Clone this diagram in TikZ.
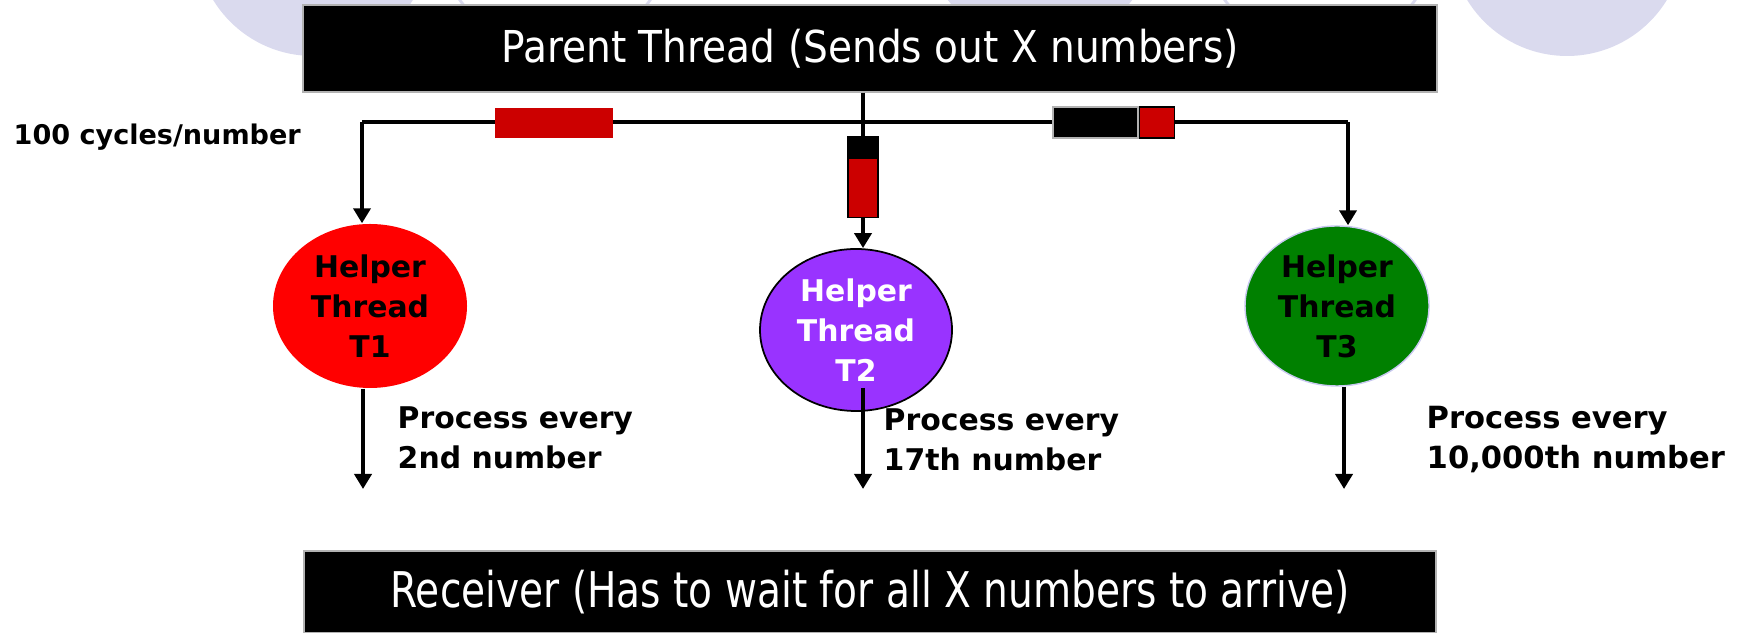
\documentclass[tikz,border=0pt]{standalone}
\usepackage{fontspec}
\setmainfont{DejaVu Sans}
\newfontfamily\bannerfont{DejaVu Sans}[FakeStretch=0.89]
\newfontfamily\receiverfont{DejaVu Sans}[FakeStretch=0.795]
\usetikzlibrary{arrows.meta}
\usetikzlibrary{shapes.geometric}

\definecolor{bgcircle}{HTML}{DADAEE}
\definecolor{pktred}{HTML}{CC0000}
\definecolor{t1red}{HTML}{FF0000}
\definecolor{t2purple}{HTML}{9933FF}
\definecolor{t3green}{HTML}{008000}
\definecolor{t3rim}{HTML}{C8C8F0}

\tikzset{
  banner/.style={rectangle, fill=black, draw=gray!60, line width=0.4pt, text=white, inner sep=0pt},
  helper/.style={ellipse, inner sep=0pt, align=center, font=\bfseries\fontsize{8.5}{11.4}\selectfont},
  wire/.style={line width=1.3pt},
  flow/.style={wire, -{Triangle[width=1.7mm, length=1.5mm]}},
  note/.style={anchor=west, inner sep=0pt, align=left, font=\bfseries\fontsize{8.5}{11.4}\selectfont},
  packet/.style={rectangle, inner sep=0pt, draw=black, line width=0.4pt},
}

\begin{document}
\begin{tikzpicture}
  \useasboundingbox (0,0) rectangle (17.42,6.33);

  % discs along the top edge
  \fill[bgcircle] (3.13,6.94) circle (1.17);
  \fill[bgcircle] (10.40,7.05) circle (1.17);
  \fill[bgcircle] (15.67,6.94) circle (1.17);
  \draw[bgcircle, line width=0.8pt] (5.55,7.01) circle (1.17);
  \draw[bgcircle, line width=0.8pt] (13.20,7.01) circle (1.17);

  \node[banner, minimum width=11.34cm, minimum height=0.87cm, font=\bannerfont\fontsize{12.5}{15}\selectfont] (parent) at (8.70,5.845) {Parent Thread (Sends out X numbers)};
  \node[banner, minimum width=11.32cm, minimum height=0.82cm, font=\receiverfont\fontsize{14}{16}\selectfont] (receiver) at (8.70,0.41) {Receiver (Has to wait for all X numbers to arrive)};

  \node[helper, fill=t1red, minimum width=1.94cm, minimum height=1.64cm] (t1) at (3.70,3.27) {Helper\\Thread\\T1};
  \node[helper, fill=t2purple, draw=black, line width=0.5pt, text=white, minimum width=1.92cm, minimum height=1.62cm] (t2) at (8.56,3.03) {Helper\\Thread\\T2};
  \node[helper, fill=t3green, draw=t3rim, line width=0.4pt, minimum width=1.84cm, minimum height=1.60cm] (t3) at (13.37,3.27) {Helper\\Thread\\T3};

  \coordinate (c1) at (3.62,5.11);
  \coordinate (j) at (8.63,5.11);
  \coordinate (c3) at (13.48,5.11);
  \coordinate (o1) at (3.63,1.44);
  \coordinate (o2) at (8.63,1.44);
  \coordinate (o3) at (13.44,1.44);
  \coordinate (t2tail) at (8.63,2.45);

  % fan-out from the parent
  \draw[wire] (c1) -- (c3);
  \draw[flow] (c1) -- (c1 |- t1.north);
  \draw[flow] (c3) -- (c3 |- t3.north);
  \draw[flow] (parent.south -| j) -- (j |- t2.north);

  % results going down
  \draw[flow] (o1 |- t1.south) -- (o1);
  \draw[flow] (t2tail) -- (o2);
  \draw[flow] (o3 |- t3.south) -- (o3);

  % numbers in flight
  \node[packet, fill=pktred, draw=none, minimum width=1.18cm, minimum height=0.30cm] (pk1) at (5.54,5.10) {};
  \node[packet, fill=black, draw=gray!60, minimum width=0.85cm, minimum height=0.31cm] (pk3a) at (10.955,5.105) {};
  \node[packet, fill=pktred, minimum width=0.35cm, minimum height=0.31cm, anchor=west] (pk3b) at (pk3a.east) {};
  \node[packet, fill=black, minimum width=0.30cm, minimum height=0.20cm] (pk2a) at (8.63,4.86) {};
  \node[packet, fill=pktred, minimum width=0.30cm, minimum height=0.59cm, anchor=north] (pk2b) at (pk2a.south) {};

  \node[note, font=\bfseries\fontsize{7.7}{9}\selectfont] (rate) at (0.13,4.96) {100 cycles/number};
  \node[note] (every1) at (3.97,1.95) {Process every\\2nd number};
  \node[note] (every2) at (8.83,1.93) {Process every\\17th number};
  \node[note, font=\bfseries\fontsize{8.7}{11.4}\selectfont] (every3) at (14.26,1.93) {Process every\\10,000th number};
\end{tikzpicture}
\end{document}
